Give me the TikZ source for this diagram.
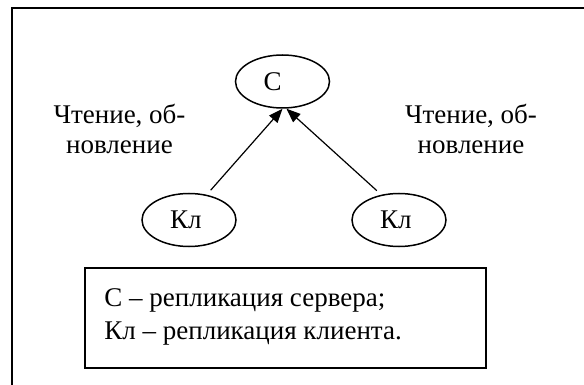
\documentclass[tikz,border=0pt]{standalone}
\usepackage{fontspec}
\setmainfont{Liberation Serif}
\usetikzlibrary{shapes.geometric,arrows.meta}
\newcommand{\inell}[1]{\makebox[19pt][l]{#1}}

\begin{document}
\begin{tikzpicture}[
    x=0.5pt,y=-0.5pt,
    every node/.style={inner sep=0pt,font=\fontsize{13.5}{15}\selectfont},
    repl/.style={draw,ellipse,line width=0.75pt,minimum width=47pt,minimum height=26.5pt},
    upd/.style={-{Triangle[length=7pt,width=5.5pt]},line width=0.6pt,shorten <=3pt},
    note/.style={align=center},
    keybox/.style={draw,line width=0.75pt,minimum width=200.5pt,minimum height=50pt,anchor=north west}
  ]
  \useasboundingbox (0,0) rectangle (584,385);
  \draw[line width=0.9pt] (12,400) -- (12,8) -- (590,8);
  \node[repl] (srv) at (282.5,81.5) {\inell{С}};
  \node[repl] (cl1) at (189,220) {\inell{Кл}};
  \node[repl] (cl2) at (399,220) {\inell{Кл}};
  \draw[upd] (cl1.55) -- (srv.south);
  \draw[upd] (cl2.125) -- ([xshift=2pt]srv.south);
  \node[note] (rd1) at (119.5,128.5) {Чтение, об-\\новление};
  \node[note] (rd2) at (471,128.5) {Чтение, об-\\новление};
  \node[keybox] (key) at (84,267) {};
  \node[anchor=north west,align=left,font=\fontsize{13.5}{16.5}\selectfont] (keytxt)
    at ([xshift=10pt,yshift=-10.5pt]key.north west) {С – репликация сервера;\\Кл – репликация клиента.};
\end{tikzpicture}
\end{document}
